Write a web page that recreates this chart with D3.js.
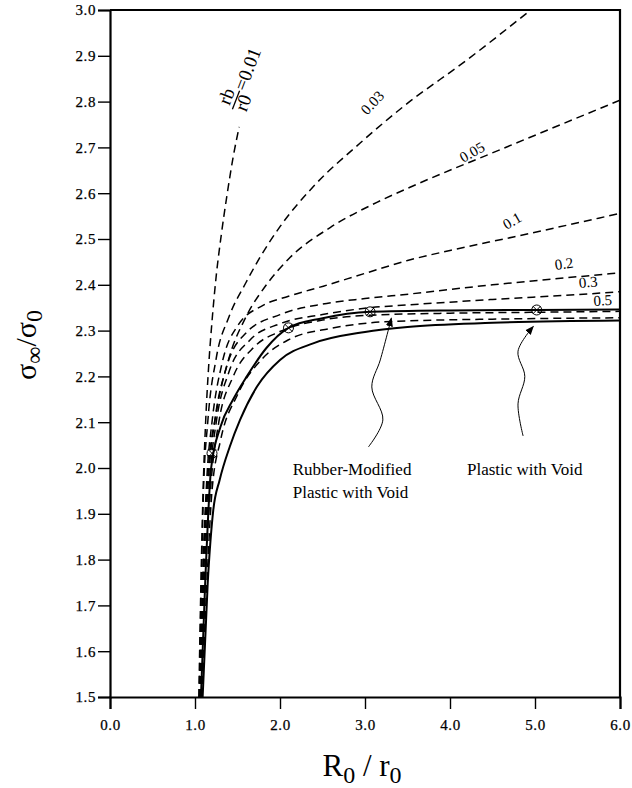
<!DOCTYPE html>
<html>
<head>
<meta charset="utf-8">
<script src="https://cdn.jsdelivr.net/npm/d3@7"></script>
<style>
  body { margin: 0; background: #fff; }
  text { font-family: "Liberation Serif", "Times New Roman", serif; }
  .tick text { font-size: 15px; letter-spacing: 0.6px; }
</style>
</head>
<body>
<div id="chart"></div>
<script>
// curves: [R0/r0, sigma_inf/sigma_0]
var rb001 = [[1.045,1.5],[1.07,1.75],[1.095,1.95],[1.125,2.1],[1.16,2.22],[1.2,2.32],[1.25,2.42],[1.31,2.51],[1.38,2.6],[1.45,2.68],[1.52,2.745]];
var rb003 = [[1.05,1.5],[1.075,1.75],[1.10,1.95],[1.15,2.1],[1.25,2.24],[1.4,2.33],[1.6,2.405],[1.765,2.46],[2.0,2.527],[2.39,2.614],[2.94,2.709],[3.45,2.789],[4.2,2.891],[4.95,3.0]];
var rb005 = [[1.055,1.5],[1.09,1.75],[1.15,1.98],[1.25,2.12],[1.4,2.24],[1.6,2.33],[1.84,2.40],[2.12,2.46],[2.59,2.525],[3.14,2.58],[3.53,2.613],[4.59,2.695],[6.0,2.803]];
var rb01  = [[1.06,1.5],[1.09,1.75],[1.14,1.98],[1.2,2.1],[1.32,2.23],[1.5,2.31],[1.8,2.355],[2.1,2.375],[2.51,2.397],[3.0,2.425],[3.5,2.453],[4.0,2.475],[4.76,2.505],[6.0,2.556]];
var rb02  = [[1.065,1.5],[1.10,1.75],[1.16,1.98],[1.23,2.1],[1.37,2.22],[1.6,2.295],[2.0,2.335],[2.5,2.358],[3.0,2.37],[3.53,2.38],[4.5,2.4],[5.35,2.415],[6.0,2.426]];
var rb03  = [[1.07,1.5],[1.11,1.75],[1.17,1.97],[1.25,2.1],[1.4,2.21],[1.65,2.28],[2.0,2.315],[2.5,2.335],[3.06,2.35],[3.5,2.356],[4.5,2.368],[5.62,2.38],[6.0,2.385]];
var rb05  = [[1.075,1.5],[1.12,1.75],[1.19,1.97],[1.28,2.1],[1.45,2.2],[1.7,2.265],[2.0,2.298],[2.5,2.323],[3.0,2.333],[4.0,2.338],[5.0,2.34],[6.0,2.342]];
var rbLow = [[1.08,1.5],[1.14,1.75],[1.2,1.95],[1.3,2.06],[1.5,2.16],[1.8,2.24],[2.1,2.28],[2.6,2.305],[3.06,2.317],[3.5,2.321],[4.5,2.325],[6.0,2.328]];
var rubberVoid  = [[1.07,1.5],[1.12,1.75],[1.19,2.0],[1.3,2.09],[1.45,2.15],[1.61,2.2],[1.84,2.262],[2.1,2.306],[2.5,2.327],[3.06,2.341],[4.0,2.344],[5.02,2.345],[6.0,2.346]];
var plasticVoid = [[1.09,1.5],[1.15,1.75],[1.215,1.908],[1.29,1.974],[1.41,2.047],[1.53,2.105],[1.73,2.178],[2.0,2.236],[2.39,2.272],[3.0,2.297],[3.5,2.308],[4.5,2.317],[6.0,2.322]];

var dashedCurves = [rb001, rb003, rb005, rb01, rb02, rb03, rb05, rbLow];
var solidCurves = [rubberVoid, plasticVoid];

// curve labels: text, x, y (data units), angle
var labelText  = ["0.03", "0.05", "0.1", "0.2", "0.3", "0.5"];
var labelX     = [3.13, 4.29, 4.76, 5.35, 5.63, 5.80];
var labelY     = [2.79, 2.68, 2.53, 2.435, 2.395, 2.355];
var labelAngle = [-47, -30, -30, -8, -5, -3];

var markerX = [1.2, 2.1, 3.06, 5.02];
var markerY = [2.032, 2.306, 2.341, 2.345];

var xTickValues = [0, 1, 2, 3, 4, 5, 6];
var yTickValues = [1.5, 1.6, 1.7, 1.8, 1.9, 2.0, 2.1, 2.2, 2.3, 2.4, 2.5, 2.6, 2.7, 2.8, 2.9, 3.0];

// annotation arrows (data units, tail -> tip)
var rubberArrow  = [[3.04,2.046],[3.21,2.105],[3.08,2.177],[3.18,2.236],[3.31,2.327]];
var plasticArrow = [[4.86,2.07],[4.8,2.14],[4.88,2.2],[4.8,2.255],[4.98,2.309]];

function drawChart() {
  var width = 632, height = 788;
  var svg = d3.select("#chart").append("svg").attr("width", width).attr("height", height);

  var x = d3.scaleLinear().domain([0, 6]).range([110, 620]);
  var y = d3.scaleLinear().domain([1.5, 3.0]).range([697, 10]);

  svg.append("clipPath").attr("id", "plotclip")
    .append("rect").attr("x", 110).attr("y", 10).attr("width", 510).attr("height", 687);

  // axes
  var xMinor = d3.range(0, 6.0001, 0.2);
  var yMinor = d3.range(1.5, 3.0001, 0.02);

  var gx = svg.append("g").attr("transform", "translate(0,697)");
  gx.call(d3.axisBottom(x).tickValues(xMinor).tickSize(5).tickFormat(""));
  gx.call(d3.axisBottom(x).tickValues(xTickValues).tickSize(12).tickPadding(10).tickFormat(d3.format(".1f")));

  var gy = svg.append("g").attr("transform", "translate(110,0)");
  gy.call(d3.axisLeft(y).tickValues(yMinor).tickSize(5).tickFormat(""));
  gy.call(d3.axisLeft(y).tickValues(yTickValues).tickSize(12).tickPadding(2).tickFormat(d3.format(".1f")));

  svg.selectAll(".domain").attr("stroke-width", 2.2);
  svg.selectAll(".tick line").attr("stroke-width", 1.4);
  svg.selectAll(".tick text").attr("fill", "#000")
    .attr("stroke", "#000").attr("stroke-width", 0.25);

  // frame top & right
  svg.append("path")
    .attr("d", "M" + x(0) + "," + y(3) + "H" + x(6) + "V" + y(1.5))
    .attr("fill", "none").attr("stroke", "#000").attr("stroke-width", 2.2);

  var line = d3.line()
    .x(function(d) { return x(d[0]); })
    .y(function(d) { return y(d[1]); })
    .curve(d3.curveMonotoneX);

  var plot = svg.append("g").attr("clip-path", "url(#plotclip)");

  plot.selectAll(".dashed").data(dashedCurves).enter().append("path")
    .attr("class", "dashed")
    .attr("d", line)
    .attr("fill", "none").attr("stroke", "#000")
    .attr("stroke-width", 1.5).attr("stroke-dasharray", "8,5");

  plot.selectAll(".solid").data(solidCurves).enter().append("path")
    .attr("class", "solid")
    .attr("d", line)
    .attr("fill", "none").attr("stroke", "#000").attr("stroke-width", 2);

  // circle-cross markers
  var mk = plot.selectAll(".mk").data(markerX).enter().append("g")
    .attr("transform", function(d, i) { return "translate(" + x(d) + "," + y(markerY[i]) + ")"; });
  mk.append("circle").attr("r", 5).attr("fill", "none").attr("stroke", "#000").attr("stroke-width", 1);
  mk.append("path").attr("d", "M-4,-4L4,4M-4,4L4,-4").attr("stroke", "#000").attr("stroke-width", 1);

  // curve labels
  svg.selectAll(".clab").data(labelText).enter().append("text")
    .attr("class", "clab")
    .attr("transform", function(d, i) {
      return "translate(" + x(labelX[i]) + "," + y(labelY[i]) + ") rotate(" + labelAngle[i] + ")";
    })
    .attr("text-anchor", "middle")
    .attr("font-size", "15px")
    .text(function(d) { return d; });

  // r_b / r_0 = 0.01 label
  var fr = svg.append("g").attr("transform", "translate(236,100) rotate(-69)");
  fr.append("line").attr("x1", -10).attr("x2", 10).attr("y1", 0).attr("y2", 0)
    .attr("stroke", "#000").attr("stroke-width", 1.3);
  fr.append("text").attr("x", 0).attr("y", -4).attr("text-anchor", "middle").attr("font-size", "19px").text("rb");
  fr.append("text").attr("x", 0).attr("y", 14).attr("text-anchor", "middle").attr("font-size", "19px").text("r0");
  fr.append("text").attr("x", 11).attr("y", 6).attr("font-size", "19px").text("=0.01");

  // arrows
  svg.append("defs").append("marker")
    .attr("id", "head").attr("viewBox", "0 0 10 10").attr("refX", 9).attr("refY", 5)
    .attr("markerWidth", 9).attr("markerHeight", 9).attr("orient", "auto")
    .append("path").attr("d", "M0,1L10,5L0,9Z").attr("fill", "#000");

  var arrowLine = d3.line()
    .x(function(d) { return x(d[0]); })
    .y(function(d) { return y(d[1]); })
    .curve(d3.curveCatmullRom);

  svg.selectAll(".arrow").data([rubberArrow, plasticArrow]).enter().append("path")
    .attr("d", arrowLine)
    .attr("fill", "none").attr("stroke", "#000").attr("stroke-width", 1)
    .attr("marker-end", "url(#head)");

  // annotation text
  var ann = svg.append("g").attr("font-size", "17px");
  ann.append("text").attr("x", x(2.15)).attr("y", y(1.985)).text("Rubber-Modified");
  ann.append("text").attr("x", x(2.15)).attr("y", y(1.935)).text("Plastic with Void");
  ann.append("text").attr("x", x(4.2)).attr("y", y(1.985)).text("Plastic with Void");

  // axis titles
  var xt = svg.append("text").attr("x", 362).attr("y", 776).attr("text-anchor", "middle").attr("font-size", "31px");
  xt.append("tspan").text("R");
  xt.append("tspan").attr("dy", 7).attr("font-size", "24px").text("0");
  xt.append("tspan").attr("dy", -7).text(" / r");
  xt.append("tspan").attr("dy", 7).attr("font-size", "24px").text("0");

  var yt = svg.append("text").attr("transform", "translate(36,345) rotate(-90)")
    .attr("text-anchor", "middle").attr("font-size", "30px");
  yt.append("tspan").text("σ");
  yt.append("tspan").attr("dy", 6).attr("font-size", "24px").text("∞");
  yt.append("tspan").attr("dy", -6).text("/σ");
  yt.append("tspan").attr("dy", 6).attr("font-size", "24px").text("0");
}

drawChart();
</script>
</body>
</html>
